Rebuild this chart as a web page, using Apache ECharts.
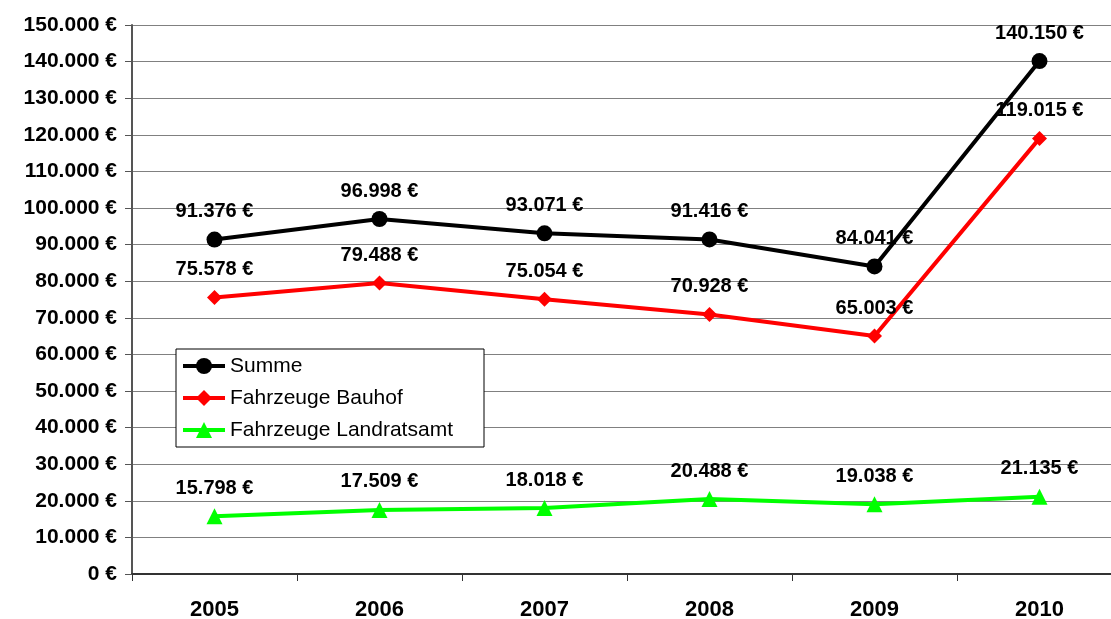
<!DOCTYPE html>
<html>
<head>
<meta charset="utf-8">
<script src="https://cdn.jsdelivr.net/npm/echarts@6/dist/echarts.min.js"></script>
<style>
  html, body { margin: 0; padding: 0; background: #fff; overflow: hidden; width: 1111px; height: 619px; }
  #chart { width: 1122px; height: 619px; }
</style>
</head>
<body>
<div id="chart"></div>
<script>
  const years = ['2005', '2006', '2007', '2008', '2009', '2010']
  const summe = [91376, 96998, 93071, 91416, 84041, 140150]
  const bauhof = [75578, 79488, 75054, 70928, 65003, 119015]
  const landratsamt = [15798, 17509, 18018, 20488, 19038, 21135]

  const FONT = 'Arial, "Liberation Sans", sans-serif'

  // 91376 -> "91.376 €"
  function euro(v) {
    return String(Math.round(v)).replace(/\B(?=(\d{3})+(?!\d))/g, '.') + ' €'
  }

  function lineSeries(name, data, color, symbol, size) {
    return {
      name: name,
      type: 'line',
      data: data,
      symbol: symbol,
      symbolSize: size,
      lineStyle: {color: color, width: 4},
      itemStyle: {color: color},
      label: {
        show: true,
        position: 'top',
        distance: 10,
        color: '#000',
        fontFamily: FONT,
        fontWeight: 'bold',
        fontSize: 20,
        formatter: (p) => euro(p.value)
      }
    }
  }

  const myChart = echarts.init(document.getElementById('chart'))
  myChart.setOption({
    animation: false,
    backgroundColor: '#fff',
    grid: {left: 132, right: 0, top: 25, bottom: 45, containLabel: false, outerBoundsMode: 'none'},
    legend: {
      orient: 'vertical',
      left: 176,
      top: 349,
      padding: [6, 6, 6, 5],
      itemGap: 10,
      itemWidth: 42,
      itemHeight: 20,
      itemTextGap: 5,
      backgroundColor: '#fff',
      borderColor: '#000',
      borderWidth: 1,
      borderRadius: 0,
      lineStyle: {width: 4},
      textStyle: {
        fontFamily: FONT,
        fontSize: 21,
        color: '#000',
        lineHeight: 22,
        width: 248
      },
      data: ['Summe', 'Fahrzeuge Bauhof', 'Fahrzeuge Landratsamt']
    },
    xAxis: {
      type: 'category',
      data: years,
      boundaryGap: true,
      axisLine: {lineStyle: {color: '#333', width: 2}},
      axisTick: {show: true, length: 7, lineStyle: {color: '#333', width: 1}},
      axisLabel: {
        margin: 25,
        color: '#000',
        fontFamily: FONT,
        fontWeight: 'bold',
        fontSize: 22
      }
    },
    yAxis: {
      type: 'value',
      min: 0,
      max: 150000,
      interval: 10000,
      axisLine: {show: true, lineStyle: {color: '#555', width: 2}},
      axisTick: {show: true, inside: false, length: 7, lineStyle: {color: '#555', width: 1}},
      splitLine: {show: true, lineStyle: {color: '#808080', width: 1}},
      axisLabel: {
        margin: 15,
        color: '#000',
        fontFamily: FONT,
        fontWeight: 'bold',
        fontSize: 21,
        formatter: (v) => euro(v)
      }
    },
    series: [
      lineSeries('Summe', summe, '#000000', 'circle', 16),
      lineSeries('Fahrzeuge Bauhof', bauhof, '#FF0000', 'diamond', 15),
      lineSeries('Fahrzeuge Landratsamt', landratsamt, '#00FF00', 'triangle', 16)
    ]
  })
  myChart.resize()
</script>
</body>
</html>
